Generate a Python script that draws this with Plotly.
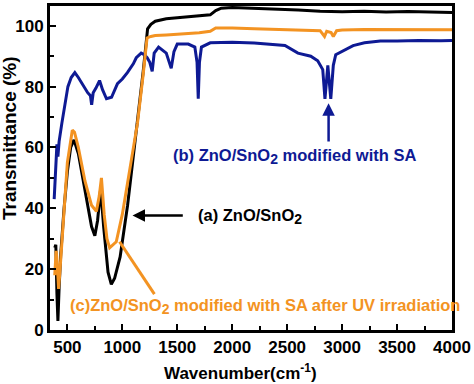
import plotly.graph_objects as go

# (a) ZnO/SnO2
wn_a = [385, 395, 405, 414, 425, 440, 470, 500, 530, 560, 600, 660, 720, 750, 775, 803, 830, 870, 900, 930, 980,
        1048, 1100, 1138, 1190, 1230, 1260, 1300, 1400, 1500, 1600, 1700, 1800, 1850, 1900, 2000, 2200, 2400, 2600,
        2800, 3000, 3200, 3400, 3600, 3800, 4000]
T_a = [27, 28, 12, 3, 14, 25, 40, 52, 60, 62.5, 58, 46, 34, 31, 36, 46.5, 34, 19, 15, 17, 24,
       41, 57, 68, 85, 99, 100.5, 101.5, 102.3, 102.6, 103, 103.3, 103.6, 105, 105.8, 106, 105.8, 105.5, 105.2,
       104.8, 104.6, 104.8, 104.5, 104.7, 104.5, 104.4]

# (b) ZnO/SnO2 modified with SA
wn_b = [380, 390, 405, 414, 425, 450, 480, 505, 535, 568, 600, 631, 685, 710, 721, 735, 760, 793, 820, 856, 902,
        956, 1000, 1046, 1100, 1127, 1172, 1200, 1226, 1250, 1272, 1290, 1330, 1400, 1445, 1470, 1500, 1600, 1660,
        1680, 1691, 1702, 1720, 1800, 1900, 2000, 2200, 2400, 2480, 2598, 2715, 2778, 2824, 2844, 2870, 2897, 2920,
        2942, 3023, 3100, 3204, 3348, 3500, 3700, 3900, 4000]
T_b = [43, 50, 61, 57, 62, 68, 74, 80, 83, 84.6, 83, 81, 78, 77, 74, 78, 79.5, 82, 79, 76, 76.5,
       81, 82.5, 84.6, 87.5, 89.5, 91, 90.5, 89.5, 88, 85, 91, 93, 91, 86, 91.5, 94, 94, 93,
       88, 76, 88, 93, 94.4, 94.6, 94.6, 94.3, 93.8, 93.5, 91, 90, 88.5, 85.6, 76, 87, 76, 87,
       90.5, 92, 93.5, 94.4, 95, 95, 95.2, 95.1, 95.2]

# (c) ZnO/SnO2 modified with SA after UV irradiation
wn_c = [385, 398, 408, 420, 430, 441, 470, 500, 545, 565, 600, 660, 720, 764, 790, 810, 835, 860, 885, 915, 945,
        1000, 1050, 1100, 1138, 1190, 1225, 1260, 1300, 1400, 1500, 1600, 1700, 1800, 1850, 1900, 2000, 2200, 2400,
        2600, 2800, 2840, 2860, 2900, 2920, 2950, 3000, 3200, 3400, 3600, 3800, 4000]
T_c = [18, 26, 22, 13.5, 18, 24, 40, 55, 65.7, 65, 60, 49, 41, 39, 44, 50, 38, 30, 27, 28, 29,
       38, 49, 60, 68, 84, 96, 96.5, 96.8, 97, 97.2, 97.4, 97.7, 98.2, 99.3, 99.3, 99.3, 99, 98.8,
       98.6, 98.4, 96.5, 98.2, 97.8, 96.5, 98.4, 98.6, 98.8, 98.8, 98.9, 98.8, 98.7]

x_ticks = [500, 1000, 1500, 2000, 2500, 3000, 3500, 4000]
y_ticks = [0, 20, 40, 60, 80, 100]

BLACK = "#000000"
BLUE = "#0e1a94"
ORANGE = "#f39322"
FONT = "Arial, Liberation Sans, sans-serif"
SUB2 = "<sub><span style='font-size:14px'>2</span></sub>"

fig = go.Figure()
fig.add_trace(go.Scatter(x=wn_a, y=T_a, mode="lines", line=dict(color=BLACK, width=3)))
fig.add_trace(go.Scatter(x=wn_b, y=T_b, mode="lines", line=dict(color=BLUE, width=3)))
fig.add_trace(go.Scatter(x=wn_c, y=T_c, mode="lines", line=dict(color=ORANGE, width=3)))

axis_common = dict(showline=True, linecolor="black", linewidth=3, mirror=True, showgrid=False, zeroline=False,
                   ticks="inside", tickcolor="black", tickwidth=2, ticklen=6,
                   tickfont=dict(family=FONT, size=17, color="black", weight="bold"))

fig.update_xaxes(range=[342, 4000], tickvals=x_ticks, ticktext=[str(v) for v in x_ticks],
                 minor=dict(ticks="inside", ticklen=4, tickwidth=2, tickcolor="black", dtick=250, tick0=250),
                 **axis_common)
fig.update_yaxes(range=[0, 106.5], tickvals=y_ticks, ticktext=[str(v) for v in y_ticks],
                 minor=dict(ticks="inside", ticklen=4, tickwidth=2, tickcolor="black", dtick=10, tick0=0),
                 **axis_common)

ann = []
# axis titles
ann.append(dict(text="<b>Wavenumber(cm<sup>-1</sup>)</b>", xref="paper", yref="paper", x=0.475, y=-0.131,
                xanchor="center", yanchor="middle", showarrow=False,
                font=dict(family=FONT, size=17, color="black")))
ann.append(dict(text="<b>Transmittance (%)</b>", xref="paper", yref="paper", x=-0.099, y=0.593,
                xanchor="center", yanchor="middle", showarrow=False, textangle=-90,
                font=dict(family=FONT, size=19, color="black")))
# labels
ann.append(dict(text="<b>(b) ZnO/SnO" + SUB2 + " modified with SA</b>", x=2569, y=57, xref="x", yref="y",
                showarrow=False, font=dict(family=FONT, size=16.5, color=BLUE)))
ann.append(dict(text="<b>(a) ZnO/SnO" + SUB2 + "</b>", x=2166, y=37.3, xref="x", yref="y",
                showarrow=False, font=dict(family=FONT, size=16.5, color=BLACK)))
ann.append(dict(text="<b>(c)ZnO/SnO" + SUB2 + " modified with SA after UV irradiation</b>", x=2298, y=7.6,
                xref="x", yref="y", showarrow=False, font=dict(family=FONT, size=16.5, color=ORANGE)))
# arrows
ann.append(dict(text="", x=2877, y=74.5, ax=2877, ay=61.5, xref="x", yref="y", axref="x", ayref="y",
                showarrow=True, arrowhead=2, arrowsize=1, arrowwidth=2.5, arrowcolor=BLUE))
ann.append(dict(text="", x=1093, y=37.6, ax=1564, ay=37.6, xref="x", yref="y", axref="x", ayref="y",
                showarrow=True, arrowhead=2, arrowsize=1, arrowwidth=2.5, arrowcolor=BLACK))

fig.update_layout(
    width=474, height=384,
    margin=dict(l=50, r=20, t=3, b=54),
    paper_bgcolor="white", plot_bgcolor="white",
    showlegend=False,
    annotations=ann,
    shapes=[dict(type="line", xref="x", yref="y", x0=1292, y0=11.8, x1=975, y1=29,
                 line=dict(color=ORANGE, width=3))],
)

fig.write_html("out.html", config={"displayModeBar": False},
               post_script="document.body.style.margin='0';document.body.style.padding='0';")
